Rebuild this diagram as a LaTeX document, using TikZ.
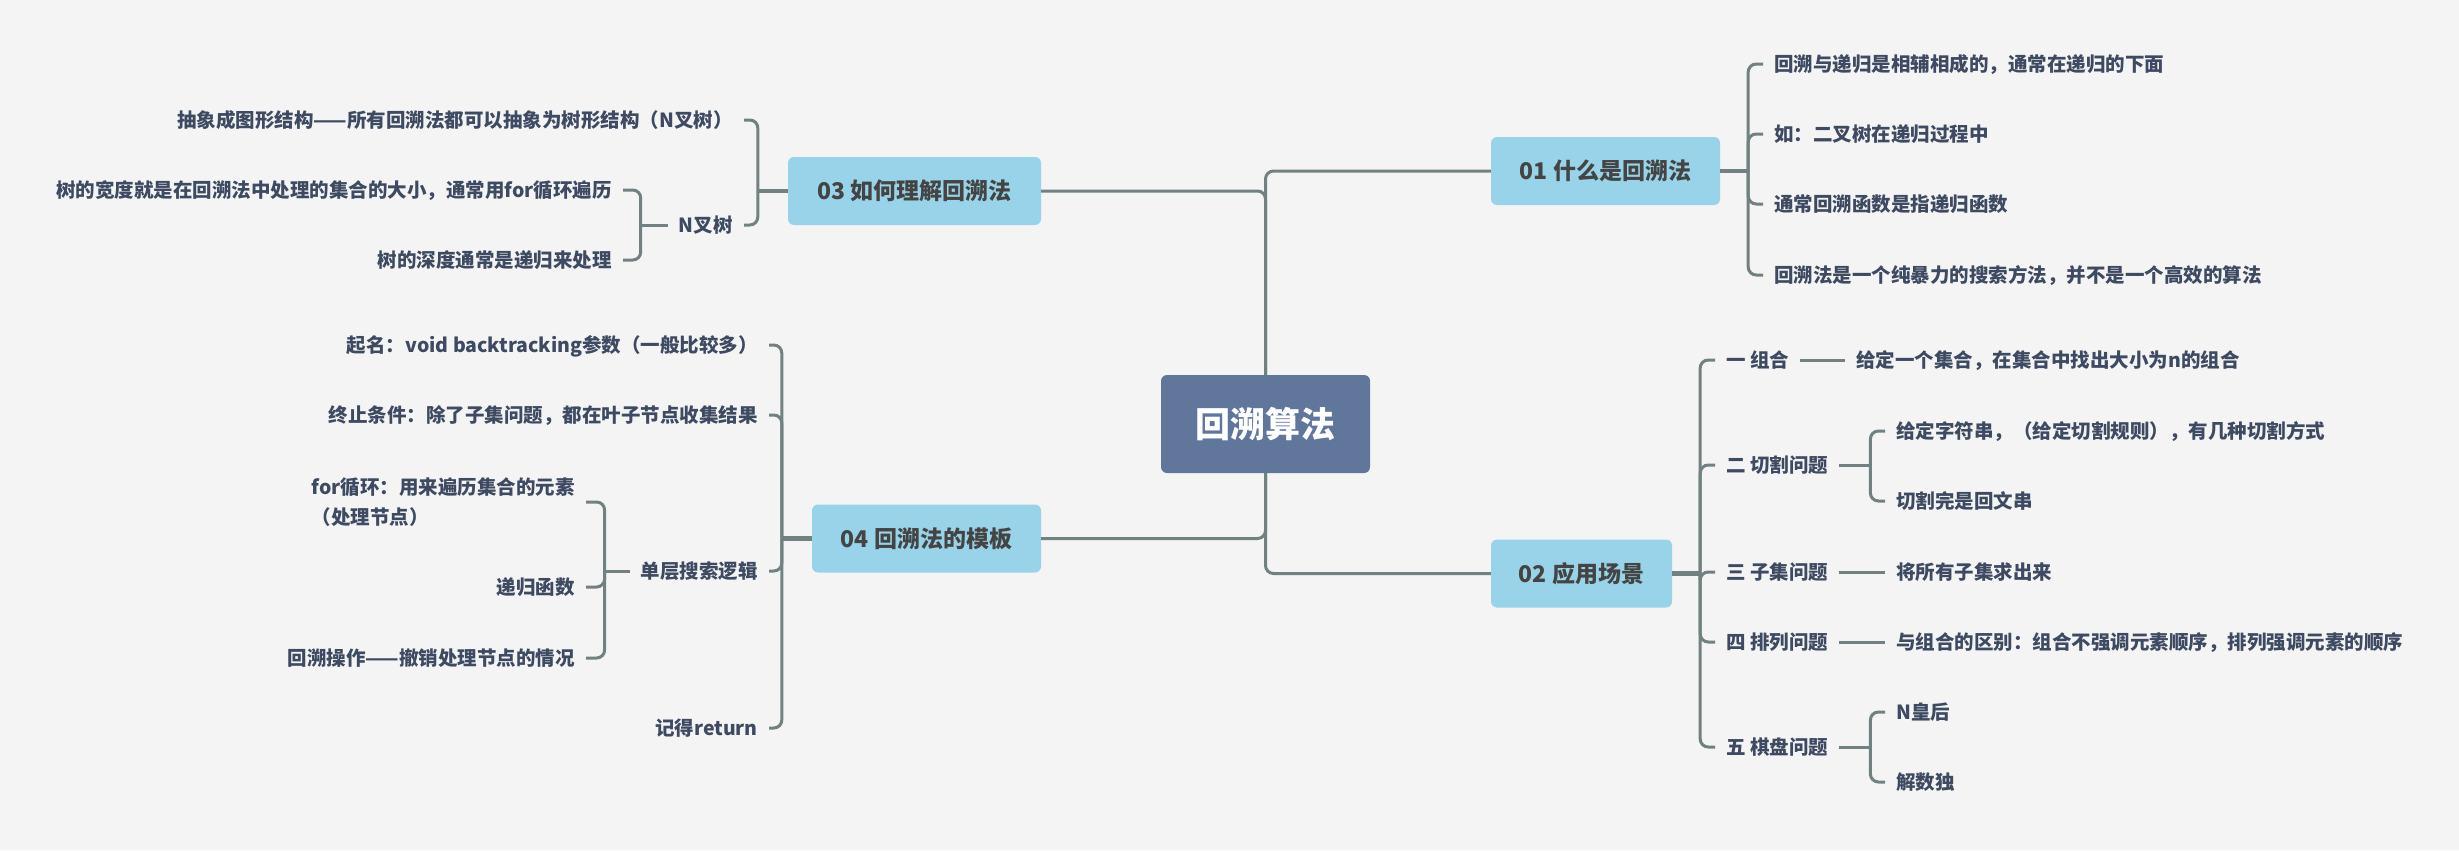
\documentclass[tikz,border=0pt]{standalone}
\usepackage{fontspec}
\setmainfont{Noto Sans CJK SC}

\definecolor{bgcol}{HTML}{F4F4F4}
\definecolor{rootcol}{HTML}{61769B}
\definecolor{boxcol}{HTML}{98D3E9}
\definecolor{linecol}{HTML}{718181}
\definecolor{leafcol}{HTML}{3E4A62}
\definecolor{boxtext}{HTML}{444444}

\begin{document}
\begin{tikzpicture}[x=1bp, y=-1bp,
    root/.style={fill=rootcol, rounded corners=6bp, minimum width=209bp, minimum height=98bp, text=white, font=\bfseries\fontsize{35bp}{40bp}\selectfont},
    topic/.style={fill=boxcol, rounded corners=6bp, minimum height=68bp, text=boxtext, font=\bfseries\fontsize{23bp}{28bp}\selectfont},
    leaf/.style={text=leafcol, font=\bfseries\fontsize{19.5bp}{30bp}\selectfont, inner xsep=11bp, inner ysep=0bp, text height=16bp, text depth=1bp},
    conn/.style={draw=linecol, line width=3bp, rounded corners=8bp},
    bconn/.style={conn, line width=4.5bp}
]
    % Background
    \fill[bgcol] (0,0) rectangle (2459,850);

    % Central topic and main branches
    \node[root] (root) at (1265.5,424) {回溯算法};
    \node[topic, minimum width=229bp] (b01) at (1605.5,171) {01 什么是回溯法};
    \node[topic, minimum width=181bp] (b02) at (1581.5,573.5) {02 应用场景};
    \node[topic, minimum width=253bp] (b03) at (914.5,191) {03 如何理解回溯法};
    \node[topic, minimum width=229bp] (b04) at (926.5,538.5) {04 回溯法的模板};

    \draw[conn] (root.north) |- (b01.west);
    \draw[conn] (root.north) |- (b03.east);
    \draw[conn] (root.south) |- (b02.west);
    \draw[conn] (root.south) |- (b04.east);

    % 01 什么是回溯法
    \node[leaf, anchor=west] (l11) at (1763,64) {回溯与递归是相辅相成的，通常在递归的下面};
    \node[leaf, anchor=west] (l12) at (1763,134) {如：二叉树在递归过程中};
    \node[leaf, anchor=west] (l13) at (1763,204) {通常回溯函数是指递归函数};
    \node[leaf, anchor=west] (l14) at (1763,275) {回溯法是一个纯暴力的搜索方法，并不是一个高效的算法};
    \draw[bconn] (b01.east) -- ++(28,0) coordinate (k01);
    \foreach \n in {l11,l12,l13,l14} \draw[conn] (k01) |- (\n.west);

    % 02 应用场景
    \node[leaf, anchor=west] (a21) at (1715,360) {一 组合};
    \node[leaf, anchor=west] (a22) at (1715,465) {二 切割问题};
    \node[leaf, anchor=west] (a23) at (1715,572) {三 子集问题};
    \node[leaf, anchor=west] (a24) at (1715,642) {四 排列问题};
    \node[leaf, anchor=west] (a25) at (1715,747) {五 棋盘问题};
    \draw[bconn] (b02.east) -- ++(28,0) coordinate (k02);
    \foreach \n in {a21,a22,a23,a24,a25} \draw[conn] (k02) |- (\n.west);

    \node[leaf, anchor=west] (l211) at (1845,360) {给定一个集合，在集合中找出大小为n的组合};
    \node[leaf, anchor=west] (l221) at (1885,431) {给定字符串，（给定切割规则），有几种切割方式};
    \node[leaf, anchor=west] (l222) at (1885,501) {切割完是回文串};
    \node[leaf, anchor=west] (l231) at (1885,572) {将所有子集求出来};
    \node[leaf, anchor=west] (l241) at (1885,642) {与组合的区别：组合不强调元素顺序，排列强调元素的顺序};
    \node[leaf, anchor=west] (l251) at (1885,712) {N皇后};
    \node[leaf, anchor=west] (l252) at (1885,782) {解数独};

    \draw[conn] (a21.east) -- (l211.west);
    \draw[conn] (a23.east) -- (l231.west);
    \draw[conn] (a24.east) -- (l241.west);
    \draw[conn] (a22.east) -- ++(31,0) coordinate (k22);
    \foreach \n in {l221,l222} \draw[conn] (k22) |- (\n.west);
    \draw[conn] (a25.east) -- ++(31,0) coordinate (k25);
    \foreach \n in {l251,l252} \draw[conn] (k25) |- (\n.west);

    % 03 如何理解回溯法
    \node[leaf, anchor=east] (l31) at (744,120) {抽象成图形结构——所有回溯法都可以抽象为树形结构（N叉树）};
    \node[leaf, anchor=east] (a32) at (744,225) {N叉树};
    \draw[bconn] (b03.west) -- ++(-30,0) coordinate (k03);
    \foreach \n in {l31,a32} \draw[conn] (k03) |- (\n.east);

    \node[leaf, anchor=east] (l321) at (623,190) {树的宽度就是在回溯法中处理的集合的大小，通常用for循环遍历};
    \node[leaf, anchor=east] (l322) at (623,260) {树的深度通常是递归来处理};
    \draw[conn] (a32.west) -- ++(-27,0) coordinate (k32);
    \foreach \n in {l321,l322} \draw[conn] (k32) |- (\n.east);

    % 04 回溯法的模板
    \node[leaf, anchor=east] (a41) at (769,345) {起名：void backtracking参数（一般比较多）};
    \node[leaf, anchor=east] (a42) at (769,415) {终止条件：除了子集问题，都在叶子节点收集结果};
    \node[leaf, anchor=east] (a43) at (769,571) {单层搜索逻辑};
    \node[leaf, anchor=east] (a44) at (769,728) {记得return};
    \draw[bconn] (b04.west) -- ++(-30,0) coordinate (k04);
    \foreach \n in {a41,a42,a43,a44} \draw[conn] (k04) |- (\n.east);

    \node[leaf, anchor=east, align=left, text height=46bp] (l431) at (586,502) {for循环：用来遍历集合的元素\\（处理节点）};
    \node[leaf, anchor=east] (l432) at (586,587) {递归函数};
    \node[leaf, anchor=east] (l433) at (586,658) {回溯操作——撤销处理节点的情况};
    \draw[conn] (a43.west) -- ++(-25,0) coordinate (k43);
    \foreach \n in {l431,l432,l433} \draw[conn] (k43) |- (\n.east);
\end{tikzpicture}
\end{document}
